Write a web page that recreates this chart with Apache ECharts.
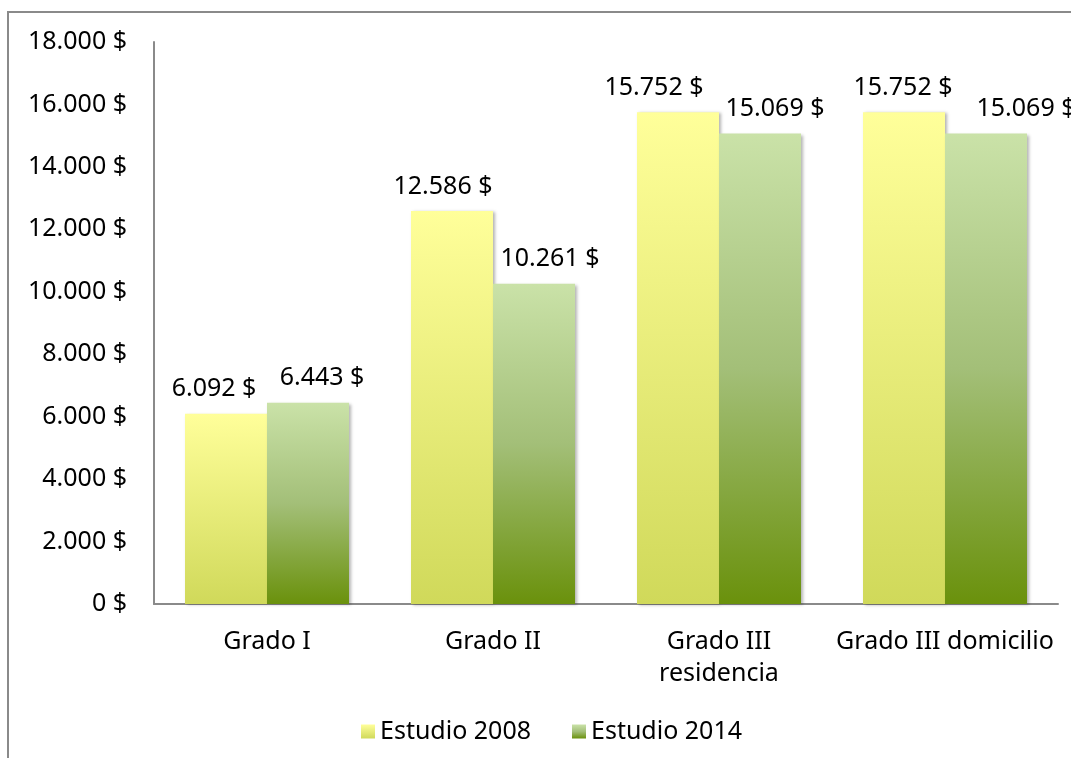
<!DOCTYPE html>
<html>
<head>
<meta charset="utf-8">
<script src="https://cdn.jsdelivr.net/npm/echarts@6/dist/echarts.min.js"></script>
<style>html,body{margin:0;padding:0;background:#fff}#c{width:1071px;height:758px}</style>
</head>
<body>
<div id="c"></div>
<script>
const categories = ['Grado I', 'Grado II', 'Grado III\nresidencia', 'Grado III domicilio'];
const estudio2008 = [6092, 12586, 15752, 15752];
const estudio2014 = [6443, 10261, 15069, 15069];
const seriesNames = ['Estudio 2008', 'Estudio 2014'];
// horizontal nudges of the data labels (layout only)
const labelShift2008 = [-12, -9, -24, -1];
const labelShift2014 = [14, 16, 15, 40];

const FONT = 'Noto Sans';
const FS = 25;
function fmt(v) {
  return String(v).replace(/\B(?=(\d{3})+(?!\d))/g, '.') + ' $';
}
const grad2008 = new echarts.graphic.LinearGradient(0, 0, 0, 1, [
  {offset: 0, color: '#FFFF9A'}, {offset: 1, color: '#D0D95A'}]);
const grad2014 = new echarts.graphic.LinearGradient(0, 0, 0, 1, [
  {offset: 0, color: '#CAE2A8'}, {offset: 0.5, color: '#A3BF78'}, {offset: 1, color: '#6A910C'}]);

const labelCfg = {
  show: true, position: 'top', distance: 12,
  fontFamily: FONT, fontSize: FS, color: '#000',
  formatter: p => fmt(p.value)
};
const shadow = {shadowColor: 'rgba(0,0,0,0.3)', shadowBlur: 3, shadowOffsetX: 2, shadowOffsetY: 1};
function items(values, shifts) {
  return values.map((v, i) => ({value: v, label: {offset: [shifts[i], 0]}}));
}

const chart = echarts.init(document.getElementById('c'), null, {renderer: 'canvas'});
chart.setOption({
  animation: false,
  graphic: [{
    type: 'rect', shape: {x: 8, y: 12, width: 1200, height: 900},
    style: {fill: 'none', stroke: '#8a8a8a', lineWidth: 2}, silent: true
  }],
  grid: {left: 154, right: 13, top: 42, bottom: 154},
  legend: {
    top: 714, left: 356, itemWidth: 14, itemHeight: 14, itemGap: 41,
    icon: 'rect',
    textStyle: {fontFamily: FONT, fontSize: FS, color: '#000'},
    data: seriesNames
  },
  xAxis: {
    type: 'category', data: categories,
    axisLine: {lineStyle: {color: '#8a8a8a', width: 2}},
    axisTick: {show: false},
    axisLabel: {fontFamily: FONT, fontSize: FS, color: '#000', margin: 22, lineHeight: 32, interval: 0}
  },
  yAxis: {
    type: 'value', min: 0, max: 18000, interval: 2000,
    axisLine: {show: true, lineStyle: {color: '#8a8a8a', width: 2}},
    axisTick: {show: false},
    splitLine: {show: false},
    axisLabel: {fontFamily: FONT, fontSize: FS, color: '#000', margin: 27, formatter: v => fmt(v)}
  },
  series: [
    {name: seriesNames[0], type: 'bar', data: items(estudio2008, labelShift2008), barWidth: 82, barGap: '0%',
     itemStyle: Object.assign({color: grad2008}, shadow), label: labelCfg},
    {name: seriesNames[1], type: 'bar', data: items(estudio2014, labelShift2014), barWidth: 82, barGap: '0%',
     itemStyle: Object.assign({color: grad2014}, shadow), label: labelCfg}
  ]
});
</script>
</body>
</html>
